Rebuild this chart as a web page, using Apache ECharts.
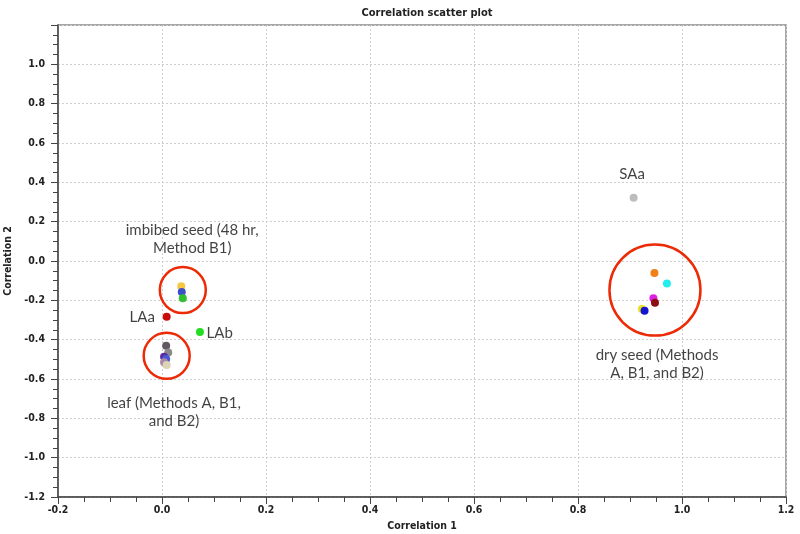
<!DOCTYPE html>
<html>
<head>
<meta charset="utf-8">
<script src="https://cdn.jsdelivr.net/npm/echarts@6/dist/echarts.min.js"></script>
<style>
  html, body { margin: 0; padding: 0; background: #fff; }
  #chart { width: 800px; height: 534px; }
</style>
</head>
<body>
<div id="chart"></div>
<script>
// point values, [correlation 1, correlation 2]
const imbibedPoints = [[0.037, -0.128], [0.038, -0.157], [0.040, -0.189]];
const leafAPoint = [[0.009, -0.283]];
const leafBPoint = [[0.073, -0.361]];
const leafPoints = [[0.008, -0.431], [0.012, -0.465], [0.004, -0.487], [0.008, -0.498], [0.004, -0.515], [0.009, -0.529]];
const dryPoints = [[0.947, -0.061], [0.971, -0.115], [0.945, -0.190], [0.948, -0.212], [0.923, -0.244], [0.928, -0.253]];
const seedAPoint = [[0.907, 0.321]];

// circled groups: centre and diameter
const circleCentres = [[0.040, -0.148], [0.009, -0.482], [0.948, -0.148]];
const circleSizes = [46, 46, 91];

// annotation texts and where they sit
const noteTexts = ["SAa", "imbibed seed (48 hr,\nMethod B1)", "LAa", "LAb", "leaf (Methods A, B1,\nand B2)", "dry seed (Methods\nA, B1, and B2)"];
const notePositions = [[0.904, 0.441], [0.058, 0.113], [-0.038, -0.286], [0.111, -0.368], [0.023, -0.771], [0.952, -0.523]];

const imbibedColors = ["#f7c744", "#3c50c8", "#30c030"];
const leafColors = ["#625862", "#8a8a8a", "#5a2aa0", "#4a58d8", "#a88aa8", "#dcd4b4"];
const dryColors = ["#f08018", "#22eeee", "#e020e0", "#8c0c14", "#e8e020", "#1414d0"];

const chart = echarts.init(document.getElementById("chart"));

function colored(points, colors) {
    return points.map((p, i) => ({ value: p, itemStyle: { color: colors[i] } }));
}

const dot = (name, data, color) => ({
    name: name,
    type: "scatter",
    symbolSize: 8,
    itemStyle: Object.assign({ opacity: 1 }, color ? { color: color } : {}),
    data: data,
    z: 3,
});

const labelFont = "Lato, 'Open Sans', sans-serif";
const axisFont = "'DejaVu Sans Condensed', 'DejaVu Sans'";

const option = {
    animation: false,
    title: {
        text: "Correlation scatter plot",
        left: 422,
        textAlign: "center",
        top: 3,
        textStyle: { fontFamily: axisFont, fontSize: 11, fontWeight: "bold", color: "#222" },
    },
    grid: {
        left: 58, right: 14, top: 25, bottom: 37,
        outerBoundsMode: "none",
        containLabel: false,
        show: true, borderColor: "#8a8a8a", borderWidth: 1.5,
    },
    xAxis: {
        type: "value",
        min: -0.2, max: 1.2, interval: 0.2,
        name: "Correlation 1",
        nameLocation: "middle",
        nameGap: 15,
        nameTextStyle: { fontFamily: axisFont, fontSize: 10.5, fontWeight: "bold", color: "#222" },
        axisLine: { onZero: false, lineStyle: { color: "#444", width: 1.5 } },
        axisTick: { length: 7, lineStyle: { color: "#444" } },
        minorTick: { show: true, splitNumber: 4, length: 5, lineStyle: { color: "#444" } },
        axisLabel: {
            margin: 8,
            fontFamily: axisFont, fontSize: 10.5, fontWeight: "bold", color: "#222",
            formatter: (v) => v.toFixed(1),
        },
        splitLine: { lineStyle: { color: "#cfcfcf", type: [2, 2] } },
    },
    yAxis: {
        type: "value",
        min: -1.2, max: 1.2, interval: 0.2,
        name: "Correlation 2",
        nameLocation: "middle",
        nameGap: 39,
        nameTextStyle: { fontFamily: axisFont, fontSize: 10.5, fontWeight: "bold", color: "#222" },
        axisLine: { onZero: false, lineStyle: { color: "#444", width: 1.5 } },
        axisTick: { length: 7, lineStyle: { color: "#444" } },
        minorTick: { show: true, splitNumber: 4, length: 5, lineStyle: { color: "#444" } },
        axisLabel: {
            margin: 13,
            fontFamily: axisFont, fontSize: 10.5, fontWeight: "bold", color: "#222",
            formatter: (v) => (v > 1.1 ? "" : v.toFixed(1)),
        },
        splitLine: { lineStyle: { color: "#cfcfcf", type: [2, 2] } },
    },
    series: [
        {
            name: "circles",
            type: "scatter",
            symbol: "circle",
            data: circleCentres.map((c, i) => ({ value: c, symbolSize: circleSizes[i] })),
            itemStyle: { color: "rgba(0,0,0,0)", borderColor: "#ec2a06", borderWidth: 2.5, opacity: 1 },
            z: 2,
            silent: true,
        },
        dot("imbibed", colored(imbibedPoints, imbibedColors)),
        dot("LAa", leafAPoint, "#cc0a0a"),
        dot("LAb", leafBPoint, "#22dd22"),
        dot("leaf", colored(leafPoints, leafColors)),
        dot("dry", colored(dryPoints, dryColors)),
        dot("SAa", seedAPoint, "#bdbdbd"),
        {
            name: "notes",
            type: "scatter",
            symbolSize: 0,
            silent: true,
            data: notePositions.map((p, i) => ({ value: p, text: noteTexts[i] })),
            label: {
                show: true,
                position: "inside",
                formatter: (p) => p.data.text,
                fontFamily: labelFont,
                fontSize: 15,
                lineHeight: 18,
                align: "center",
                color: "#111",
            },
            z: 4,
        },
    ],
};

chart.setOption(option);
window.addEventListener("resize", () => chart.resize());
</script>
</body>
</html>
